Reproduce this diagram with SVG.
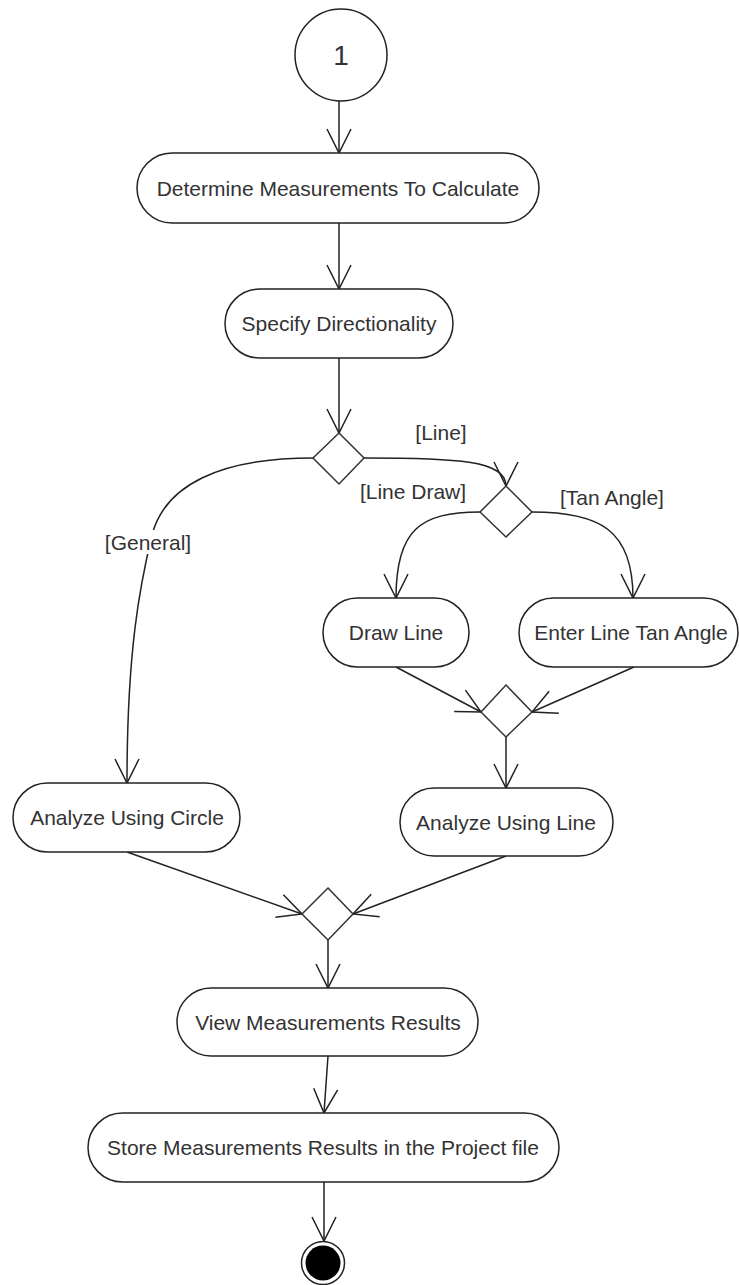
<svg xmlns="http://www.w3.org/2000/svg" width="739" height="1285" viewBox="0 0 739 1285">
<style>
.node{fill:#fff;stroke:#222;stroke-width:1.5}
.dec{fill:#fff;stroke:#333;stroke-width:1.5}
.t{font-family:"Liberation Sans",Arial,sans-serif;font-size:21px;fill:#333;text-anchor:middle}
.c{fill:none;stroke:#222;stroke-width:1.5;marker-end:url(#ah)}
</style>
<defs>
<marker id="ah" markerUnits="userSpaceOnUse" markerWidth="30" markerHeight="30" refX="26" refY="14" orient="auto" overflow="visible">
<path d="M2,2 L26,14 L2,26" fill="none" stroke="#222" stroke-width="1.5"/>
</marker>
</defs>
<rect width="739" height="1285" fill="#fff"/>
<g id="connectors">
<path class="c" d="M339,101 L339,153"/>
<path class="c" d="M339,223 L339,289"/>
<path class="c" d="M339,358 L339,433"/>
<path class="c" d="M364,458 C455,458 506,460 506,486"/>
<path class="c" d="M313,458 C220,458 165,485 152,535 C140,585 127,650 127,783"/>
<path class="c" d="M480,512 C420,512 396,530 396,598"/>
<path class="c" d="M532,512 C600,512 633,530 633,598"/>
<path class="c" d="M396,667 L481,712"/>
<path class="c" d="M634,667 L532,712"/>
<path class="c" d="M506,737 L506,788"/>
<path class="c" d="M127,852 L302,914"/>
<path class="c" d="M506,856 L353,914"/>
<path class="c" d="M328,940 L328,988"/>
<path class="c" d="M328,1056 L324,1113"/>
<path class="c" d="M324,1182 L324,1241"/>
</g>
<g id="labels">
<rect x="104" y="530" width="90" height="24" fill="#fff"/>
<text class="t" x="148" y="550">[General]</text>
<text class="t" x="441" y="440">[Line]</text>
<text class="t" x="413" y="499">[Line Draw]</text>
<text class="t" x="612" y="505">[Tan Angle]</text>
</g>
<g id="start">
<circle cx="341" cy="55" r="46" class="node"/>
<text x="341" y="65" style="font-family:'Liberation Sans',Arial,sans-serif;font-size:28px;fill:#333;text-anchor:middle">1</text>
</g>
<g id="n-determine">
<rect x="137" y="153" width="402" height="70" rx="35" class="node"/>
<text class="t" x="338" y="196">Determine Measurements To Calculate</text>
</g>
<g id="n-specify">
<rect x="225" y="289" width="228" height="69" rx="34.5" class="node"/>
<text class="t" x="339" y="331">Specify Directionality</text>
</g>
<g id="d1"><polygon class="dec" points="339,433 364,458 339,484 313,458"/></g>
<g id="d2"><polygon class="dec" points="506,486 532,512 506,537 480,512"/></g>
<g id="n-drawline">
<rect x="323" y="598" width="146" height="69" rx="34.5" class="node"/>
<text class="t" x="396" y="640">Draw Line</text>
</g>
<g id="n-enter">
<rect x="519" y="598" width="219" height="69" rx="34.5" class="node"/>
<text class="t" x="631" y="640">Enter Line Tan Angle</text>
</g>
<g id="d3"><polygon class="dec" points="506,685 532,712 506,737 481,712"/></g>
<g id="n-circle">
<rect x="13" y="783" width="227" height="69" rx="34.5" class="node"/>
<text class="t" x="127" y="825">Analyze Using Circle</text>
</g>
<g id="n-line">
<rect x="400" y="788" width="213" height="68" rx="34" class="node"/>
<text class="t" x="506" y="830">Analyze Using Line</text>
</g>
<g id="d4"><polygon class="dec" points="328,888 353,914 328,940 302,914"/></g>
<g id="n-view">
<rect x="177" y="988" width="301" height="68" rx="34" class="node"/>
<text class="t" x="328" y="1030">View Measurements Results</text>
</g>
<g id="n-store">
<rect x="88" y="1113" width="471" height="69" rx="34.5" class="node"/>
<text class="t" x="323" y="1155">Store Measurements Results in the Project file</text>
</g>
<g id="end">
<circle cx="323" cy="1263" r="21.5" fill="#fff" stroke="#222" stroke-width="1.5"/>
<circle cx="323" cy="1263" r="17.5" fill="#000"/>
</g>
</svg>
